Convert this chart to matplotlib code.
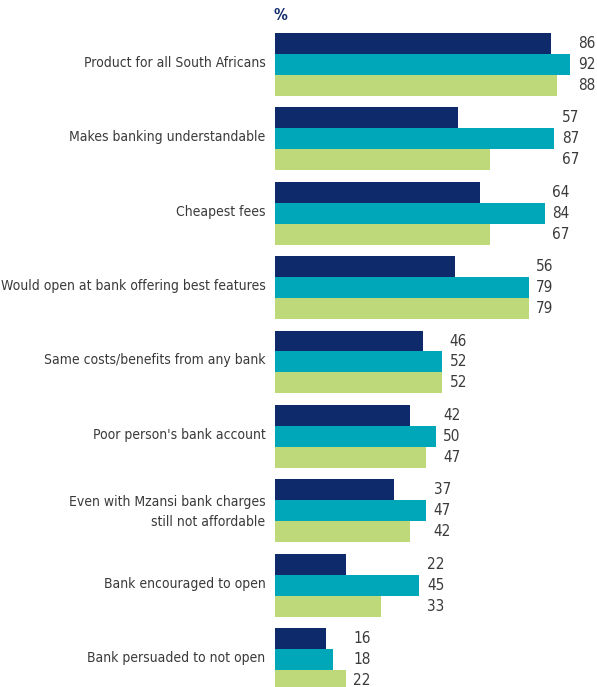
import matplotlib
matplotlib.use("Agg")
from matplotlib import pyplot as plt
from matplotlib import font_manager as fm
from matplotlib.transforms import ScaledTranslation
import numpy as np

categories = [
    "Product for all South Africans",
    "Makes banking understandable",
    "Cheapest fees",
    "Would open at bank offering best features",
    "Same costs/benefits from any bank",
    "Poor person's bank account",
    "Even with Mzansi bank charges\nstill not affordable",
    "Bank encouraged to open",
    "Bank persuaded to not open",
]
series_a = [86, 57, 64, 56, 46, 42, 37, 22, 16]
series_b = [92, 87, 84, 79, 52, 50, 47, 45, 18]
series_c = [88, 67, 67, 79, 52, 47, 42, 33, 22]

colors = ["#0f2a6a", "#00a7b8", "#bdd97a"]
text_color = "#3a3a3a"

# pick a narrow face if one is around
fonts = fm.fontManager.ttflist
if any(f.name == "Liberation Sans Narrow" for f in fonts):
    family, stretch, size = "Liberation Sans Narrow", "normal", 11
elif any(f.name == "DejaVu Sans" and f.stretch == "condensed" for f in fonts):
    family, stretch, size = "DejaVu Sans", "condensed", 10
else:
    family, stretch, size = "Roboto", "normal", 10
plt.rcParams['font.family'] = [family, 'DejaVu Sans']
plt.rcParams['font.stretch'] = stretch

fig = plt.figure(figsize=(5.97, 6.87), dpi=100)
ax = fig.add_axes([275 / 597, 0, 321 / 597, 1])

y = np.arange(len(categories))
h = 0.282
for k, vals in enumerate([series_a, series_b, series_c]):
    ax.barh(y + (k - 1) * h, vals, height=h, color=colors[k], linewidth=0)

# value labels stacked to the right of each group's longest bar
for i in range(len(categories)):
    vals = [series_a[i], series_b[i], series_c[i]]
    xmax = max(vals)
    for k, v in enumerate(vals):
        ax.annotate(str(v), (xmax, y[i] + (k - 1) * h), xytext=(5.5, 0),
                    textcoords="offset points", ha="left", va="center",
                    fontsize=size + 1, color=text_color, annotation_clip=False)

ax.set_xlim(0, 100)
ax.set_ylim(8.370, -0.867)
ax.set_yticks(y)
ax.set_yticklabels(categories, fontsize=size, color=text_color,
                   multialignment="right", linespacing=1.55)
ax.tick_params(axis="y", length=0, pad=7)
# nudge category labels up a touch
lift = ScaledTranslation(0, 0.03, fig.dpi_scale_trans)
for lbl in ax.get_yticklabels():
    lbl.set_transform(lbl.get_transform() + lift)
ax.set_xticks([])
for s in ax.spines.values():
    s.set_visible(False)

fig.text(273 / 597, 1 - 16 / 687, "%", fontsize=11, fontweight="bold",
         color="#0f2a6a", ha="left", va="center")

fig.savefig("out.png", dpi=100)
